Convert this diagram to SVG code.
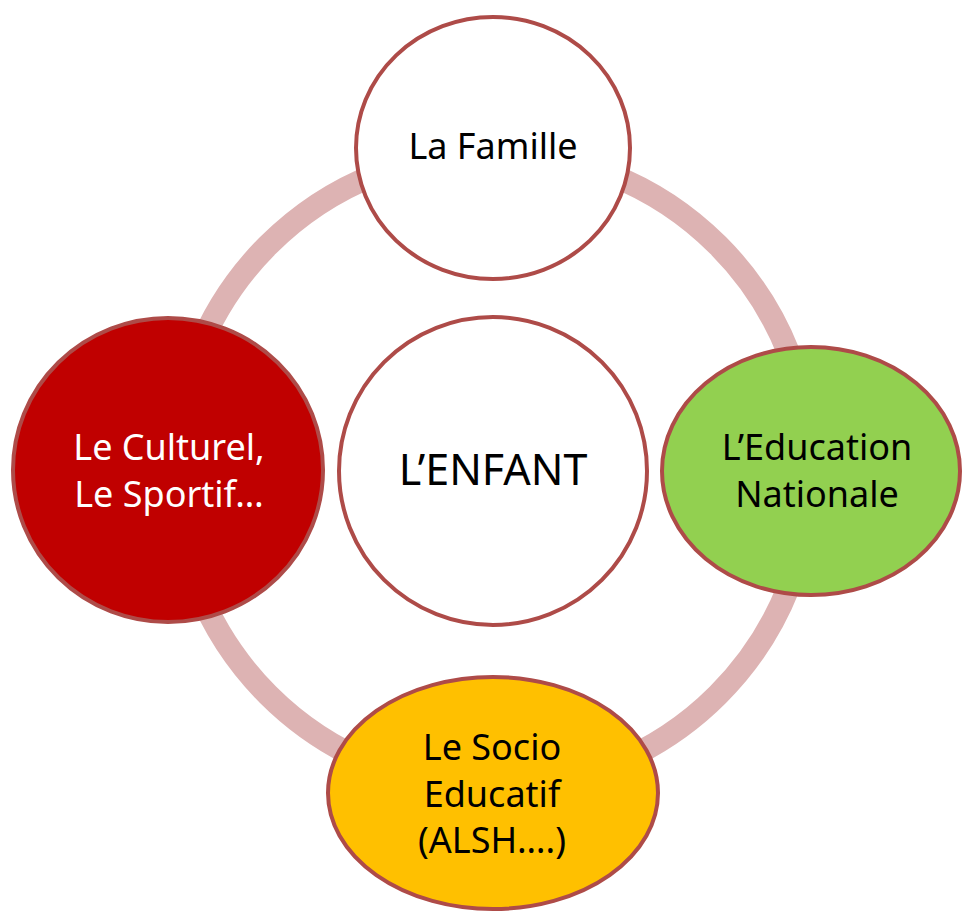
<svg xmlns="http://www.w3.org/2000/svg" width="962" height="912" viewBox="0 0 962 912">
<style>
.node{stroke:#AE4B48;stroke-width:4}
.t{font-family:"Noto Sans","Open Sans",sans-serif;font-size:36px;text-anchor:middle;fill:#000}
.w{fill:#fff}
</style>
<rect width="962" height="912" fill="#fff"/>
<g id="connectors">
<circle cx="493" cy="470" r="318" fill="none" stroke="#DDB3B3" stroke-width="23"/>
</g>
<g id="famille">
<ellipse class="node" cx="493" cy="148" rx="137" ry="131" fill="#fff"/>
<text class="t" x="493" y="159">La Famille</text>
</g>
<g id="enfant">
<circle class="node" cx="493" cy="471" r="154" fill="#fff"/>
<text class="t" x="493" y="485" style="font-size:43px">L’ENFANT</text>
</g>
<g id="culturel">
<ellipse class="node" cx="168" cy="470" rx="155" ry="152" fill="#C00000"/>
<text class="t w" x="169" y="460">Le Culturel,</text>
<text class="t w" x="169" y="507">Le Sportif…</text>
</g>
<g id="education">
<ellipse class="node" cx="811" cy="471" rx="149" ry="124" fill="#92D050"/>
<text class="t" x="817" y="460">L’Education</text>
<text class="t" x="817" y="507">Nationale</text>
</g>
<g id="socio">
<ellipse class="node" cx="493" cy="793" rx="165" ry="116" fill="#FFC000"/>
<text class="t" x="492" y="760">Le Socio</text>
<text class="t" x="492" y="807">Educatif</text>
<text class="t" x="492" y="853">(ALSH….)</text>
</g>
</svg>
